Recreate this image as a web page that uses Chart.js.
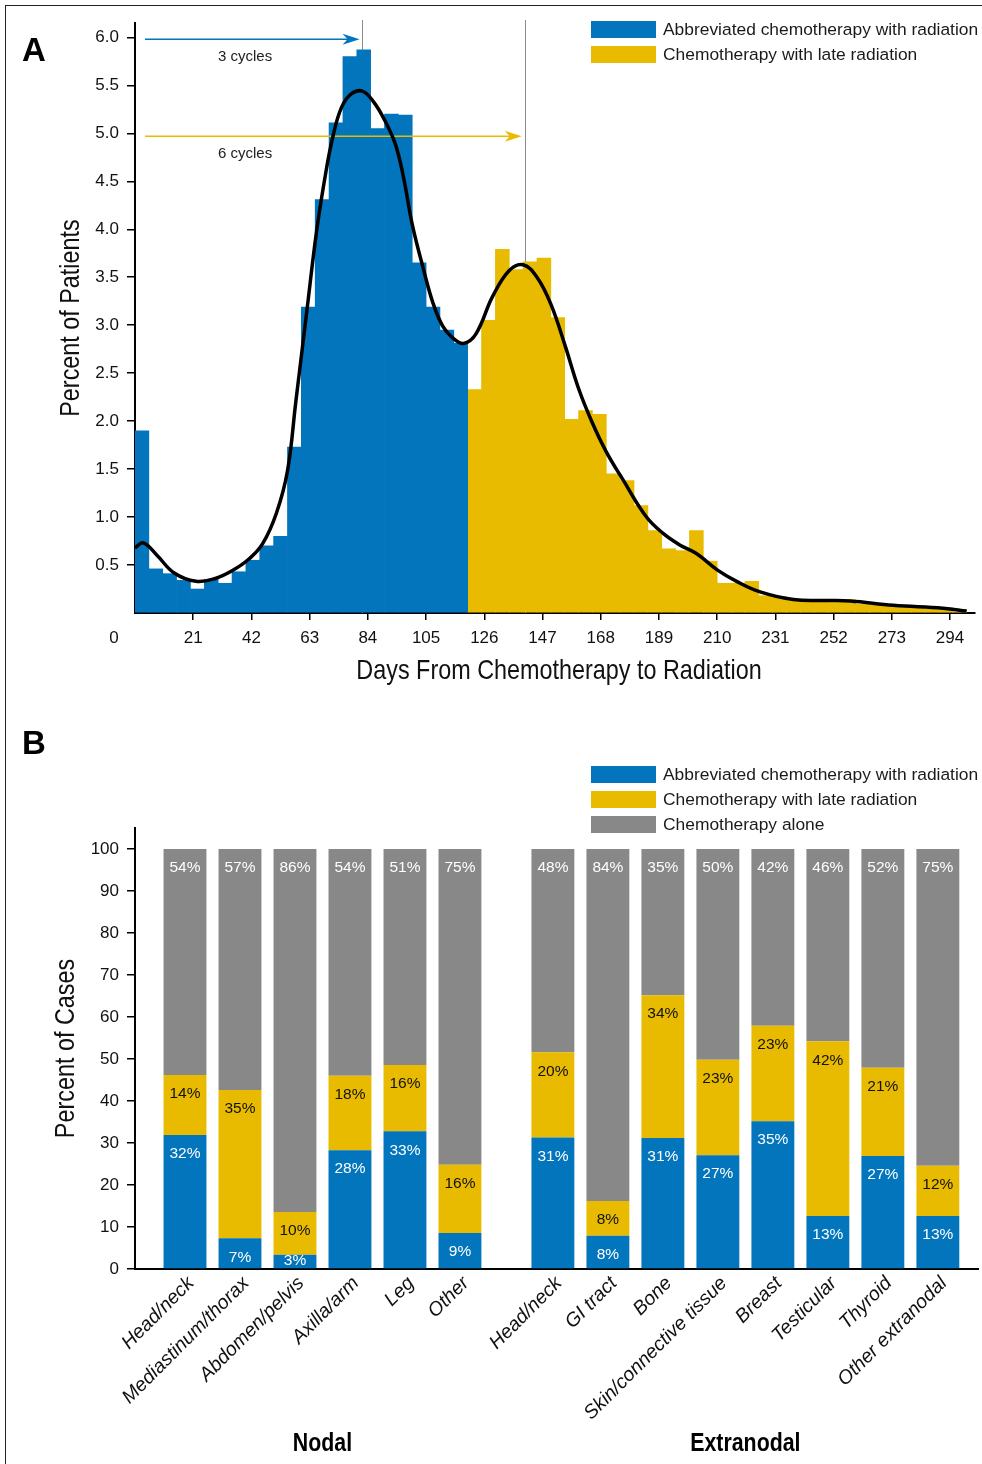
<!DOCTYPE html>
<html>
<head>
<meta charset="utf-8">
<script src="https://cdn.jsdelivr.net/npm/chart.js@4.4.1/dist/chart.umd.min.js"></script>
<style>
  html, body { margin: 0; padding: 0; background: #fff; }
  body { width: 982px; height: 1464px; position: relative; overflow: hidden; font-family: 'Liberation Sans', Arial, sans-serif; }
  .frame { position: absolute; left: 5px; top: 5px; right: 0; bottom: 0; border-left: 1.5px solid #222; border-top: 1.5px solid #222; }
  canvas { position: absolute; left: 0; }
  .panel-letter { position: absolute; left: 22px; font: bold 33px/33px 'Liberation Sans', Arial, sans-serif; color: #000; }
  .legend { position: absolute; left: 591px; }
  .legend-row { display: flex; align-items: center; height: 25px; }
  .legend-swatch { width: 65px; height: 17px; margin-right: 7px; }
  .legend-text { font-size: 17.4px; line-height: 17px; color: #1a1a1a; white-space: nowrap; }
</style>
</head>
<body>
<div class="frame"></div>
<canvas id="histChart" width="982" height="700" style="top:0;width:982px;height:700px"></canvas>
<canvas id="siteChart" width="982" height="764" style="top:700px;width:982px;height:764px"></canvas>

<div class="panel-letter" style="top:33px">A</div>
<div class="panel-letter" style="top:726px">B</div>

<div class="legend" style="top:17px">
  <div class="legend-row"><div class="legend-swatch" style="background:#0275bd"></div><div class="legend-text">Abbreviated chemotherapy with radiation</div></div>
  <div class="legend-row"><div class="legend-swatch" style="background:#e8bb00"></div><div class="legend-text">Chemotherapy with late radiation</div></div>
</div>
<div class="legend" style="top:762px">
  <div class="legend-row"><div class="legend-swatch" style="background:#0275bd"></div><div class="legend-text">Abbreviated chemotherapy with radiation</div></div>
  <div class="legend-row"><div class="legend-swatch" style="background:#e8bb00"></div><div class="legend-text">Chemotherapy with late radiation</div></div>
  <div class="legend-row"><div class="legend-swatch" style="background:#888888"></div><div class="legend-text">Chemotherapy alone</div></div>
</div>

<script>
const BLUE = '#0275bd';
const GOLD = '#e8bb00';
const GRAY = '#888888';
const SANS = "'Liberation Sans', Arial, sans-serif";

// ---- Panel A data: percent of patients per 5-day bin ----
const binWidth = 5;
const abbreviatedPct = [1.90, 0.46, 0.41, 0.34, 0.25, 0.35, 0.31, 0.43, 0.55, 0.70, 0.80, 1.73,
  3.19, 4.31, 5.11, 5.80, 5.87, 5.05, 5.20, 5.19, 3.65, 3.19, 2.95, 2.81];
const lateStartDay = 120;
const latePct = [2.33, 3.05, 3.79, 3.58, 3.66, 3.70, 3.08, 2.02, 2.11, 2.07, 1.45, 1.38,
  1.12, 0.86, 0.67, 0.65, 0.86, 0.54, 0.31, 0.31, 0.33, 0.18, 0.17, 0.13,
  0.12, 0.12, 0.11, 0.14, 0.09, 0.08, 0.07, 0.055, 0.05, 0.04, 0.055, 0.01];

// smoothed density curve
const curveDays = [0, 3, 8, 14, 22, 29, 35, 41, 46, 51, 55, 58, 62, 65.5, 69, 71.5, 74.5, 78, 82, 86,
  90, 94, 97, 100, 104, 107.5, 111, 114.5, 118.5, 123, 129, 135, 140, 145, 150, 155, 160, 165,
  170, 176, 184.5, 190.5, 196.5, 202.5, 210, 217, 225.5, 237.5, 249.5, 258, 273.5, 291.5, 300];
const curvePct = [0.68, 0.73, 0.60, 0.42, 0.33, 0.36, 0.44, 0.56, 0.72, 1.04, 1.48, 2.20, 3.15, 3.98,
  4.62, 4.98, 5.27, 5.41, 5.44, 5.33, 5.14, 4.88, 4.52, 4.05, 3.59, 3.23, 2.99, 2.87, 2.81, 2.91,
  3.30, 3.57, 3.63, 3.50, 3.22, 2.80, 2.34, 1.98, 1.68, 1.39, 1.00, 0.83, 0.71, 0.62, 0.45, 0.33,
  0.22, 0.14, 0.13, 0.125, 0.08, 0.05, 0.02];

const cycleLabels = ['3 cycles', '6 cycles'];
const cycleDays = [82, 140.5];

// ---- Panel B data: percent of cases by site ----
const nodalSites = ['Head/neck', 'Mediastinum/thorax', 'Abdomen/pelvis', 'Axilla/arm', 'Leg', 'Other'];
const extranodalSites = ['Head/neck', 'GI tract', 'Bone', 'Skin/connective tissue', 'Breast',
  'Testicular', 'Thyroid', 'Other extranodal'];
const abbreviatedShare = [31.9, 7.3, 3.4, 28.3, 32.8, 8.6, 31.3, 7.9, 31.2, 27.1, 35.2, 12.6, 26.9, 12.6];
const lateShare = [14.3, 35.3, 10.2, 17.7, 15.8, 16.2, 20.3, 8.3, 34.0, 22.7, 22.7, 41.6, 21.0, 12.0];
const aloneShare = [53.8, 57.4, 86.4, 54.0, 51.4, 75.2, 48.4, 83.8, 34.8, 50.2, 42.1, 45.8, 52.1, 75.4];
const groupNames = ['Nodal', 'Extranodal'];

Chart.defaults.font.family = SANS;
Chart.defaults.color = '#111';
Chart.defaults.animation = false;

// condensed look for titles (no narrow face installed): squeeze the regular face
function narrowText(ctx, text, x, y, size, bold, vertical) {
  ctx.save();
  ctx.translate(x, y);
  if (vertical) ctx.rotate(-Math.PI / 2);
  ctx.scale(0.82, 1);
  ctx.font = (bold ? 'bold ' : '') + size + 'px ' + SANS;
  ctx.fillStyle = bold ? '#000' : '#111';
  ctx.textAlign = 'center';
  ctx.textBaseline = 'middle';
  ctx.fillText(text, 0, 0);
  ctx.restore();
}

function arrowTo(ctx, x0, x1, y, color) {
  ctx.strokeStyle = color;
  ctx.fillStyle = color;
  ctx.lineWidth = 1.6;
  ctx.beginPath();
  ctx.moveTo(x0, y);
  ctx.lineTo(x1 - 8, y);
  ctx.stroke();
  ctx.beginPath();
  ctx.moveTo(x1, y);
  ctx.lineTo(x1 - 17, y - 5.5);
  ctx.lineTo(x1 - 12, y);
  ctx.lineTo(x1 - 17, y + 5.5);
  ctx.closePath();
  ctx.fill();
}

// marker lines + arrows for the cycle counts
const cycleDecor = {
  id: 'cycleDecor',
  beforeDatasetsDraw(chart) {
    const { ctx, chartArea, scales: { x } } = chart;
    ctx.save();
    ctx.strokeStyle = '#8a8a8a';
    ctx.lineWidth = 1;
    cycleDays.forEach(d => {
      const px = Math.round(x.getPixelForValue(d)) + 0.5;
      ctx.beginPath();
      ctx.moveTo(px, chartArea.top - 3);
      ctx.lineTo(px, chartArea.bottom);
      ctx.stroke();
    });
    ctx.restore();
  },
  afterDatasetDraw(chart, args) {
    if (args.index !== 0) return;
    const { ctx, scales: { x, y } } = chart;
    const arrowLevels = [5.98, 4.97];
    const textLevels = [5.80, 4.79];
    const colors = [BLUE, GOLD];
    ctx.save();
    cycleDays.forEach((d, i) => {
      arrowTo(ctx, x.getPixelForValue(3.6), x.getPixelForValue(d - 1), y.getPixelForValue(arrowLevels[i]), colors[i]);
      ctx.fillStyle = '#222';
      ctx.font = '15px ' + SANS;
      ctx.textAlign = 'center';
      ctx.textBaseline = 'middle';
      ctx.fillText(cycleLabels[i], x.getPixelForValue(39.7), y.getPixelForValue(textLevels[i]));
    });
    ctx.restore();
  },
  afterDraw(chart) {
    const { ctx, chartArea, scales: { x } } = chart;
    ctx.save();
    ctx.fillStyle = '#111';
    ctx.font = '17px ' + SANS;
    ctx.textAlign = 'center';
    ctx.textBaseline = 'middle';
    ctx.fillText('0', x.getPixelForValue(0) - 21, chartArea.bottom + 25);
    ctx.restore();
    narrowText(ctx, 'Days From Chemotherapy to Radiation', (chartArea.left + chartArea.right) / 2 + 4, chartArea.bottom + 58, 28.5);
    narrowText(ctx, 'Percent of Patients', 71, (chartArea.top + chartArea.bottom) / 2, 28.5, false, true);
  }
};

const hideZero = (c) => (c.tick && c.tick.value === 0 ? 'rgba(0,0,0,0)' : '#000');

new Chart(document.getElementById('histChart'), {
  type: 'bar',
  data: {
    datasets: [
      {
        label: 'Abbreviated chemotherapy with radiation',
        data: abbreviatedPct.map((v, i) => ({ x: i * binWidth + binWidth / 2, y: v })),
        backgroundColor: BLUE,
        order: 2
      },
      {
        label: 'Chemotherapy with late radiation',
        data: latePct.map((v, i) => ({ x: lateStartDay + i * binWidth + binWidth / 2, y: v })),
        backgroundColor: GOLD,
        order: 2
      },
      {
        type: 'line',
        label: 'Density',
        data: curveDays.map((d, i) => ({ x: d, y: curvePct[i] })),
        borderColor: '#000',
        borderWidth: 3.5,
        pointRadius: 0,
        tension: 0.4,
        fill: false,
        order: 1
      }
    ]
  },
  options: {
    responsive: false,
    devicePixelRatio: 1,
    layout: { padding: { left: 50, right: 7, top: 23, bottom: 9 } },
    datasets: {
      bar: { grouped: false, barPercentage: 1, categoryPercentage: 1, borderWidth: 0 }
    },
    plugins: { legend: { display: false }, tooltip: { enabled: false } },
    scales: {
      x: {
        type: 'linear',
        min: 0,
        max: 303,
        offset: false,
        afterFit: (s) => { s.height = 78; },
        border: { display: true, color: '#000', width: 2 },
        grid: { offset: false, drawOnChartArea: false, drawTicks: true, tickLength: 7, color: hideZero, lineWidth: 1.5 },
        ticks: {
          stepSize: 21,
          includeBounds: false,
          padding: 8,
          maxRotation: 0,
          font: { size: 17 },
          callback: (v) => (v === 0 ? '' : v)
        }
      },
      y: {
        min: 0,
        max: 6.15,
        afterFit: (s) => { s.width = 85; },
        border: { display: true, color: '#000', width: 2 },
        grid: { drawOnChartArea: false, drawTicks: true, tickLength: 8, color: hideZero, lineWidth: 1.5 },
        ticks: {
          stepSize: 0.5,
          includeBounds: false,
          padding: 8,
          font: { size: 17 },
          callback: (v) => (v === 0 ? '' : v.toFixed(1))
        }
      }
    }
  },
  plugins: [cycleDecor]
});

// ---- Panel B ----
const siteNames = nodalSites.concat(extranodalSites);
const groupGap = 0.69;
const siteSlots = siteNames.map((_, i) => i + (i >= nodalSites.length ? groupGap : 0));

const segmentLabels = {
  id: 'segmentLabels',
  afterDatasetsDraw(chart) {
    const { ctx } = chart;
    ctx.save();
    ctx.font = '15.5px ' + SANS;
    ctx.textAlign = 'center';
    ctx.textBaseline = 'middle';
    chart.data.datasets.forEach((ds, di) => {
      chart.getDatasetMeta(di).data.forEach((bar, i) => {
        ctx.fillStyle = ds.labelColor;
        ctx.fillText(Math.round(ds.data[i].y) + '%', bar.x, Math.min(bar.y + 19, bar.base - 8));
      });
    });
    ctx.restore();
  },
  afterDraw(chart) {
    const { ctx, chartArea, scales: { x } } = chart;
    const nodalMid = (siteSlots[0] + siteSlots[nodalSites.length - 1]) / 2;
    const extraMid = (siteSlots[nodalSites.length] + siteSlots[siteSlots.length - 1]) / 2;
    narrowText(ctx, groupNames[0], x.getPixelForValue(nodalMid), chartArea.bottom + 175, 26, true);
    narrowText(ctx, groupNames[1], x.getPixelForValue(extraMid), chartArea.bottom + 175, 26, true);
    narrowText(ctx, 'Percent of Cases', 66, (chartArea.top + chartArea.bottom) / 2, 28.5, false, true);
  }
};

const toPoints = (arr) => arr.map((v, i) => ({ x: siteSlots[i], y: v }));

new Chart(document.getElementById('siteChart'), {
  type: 'bar',
  data: {
    datasets: [
      { label: 'Abbreviated chemotherapy with radiation', data: toPoints(abbreviatedShare), backgroundColor: BLUE, labelColor: '#fff' },
      { label: 'Chemotherapy with late radiation', data: toPoints(lateShare), backgroundColor: GOLD, labelColor: '#111' },
      { label: 'Chemotherapy alone', data: toPoints(aloneShare), backgroundColor: GRAY, labelColor: '#fff' }
    ]
  },
  options: {
    responsive: false,
    devicePixelRatio: 1,
    layout: { padding: { left: 45, right: 4, top: 128, bottom: 10 } },
    datasets: { bar: { barPercentage: 0.78, categoryPercentage: 1, borderWidth: 0 } },
    plugins: { legend: { display: false }, tooltip: { enabled: false } },
    scales: {
      x: {
        type: 'linear',
        stacked: true,
        min: -0.909,
        max: 14.42,
        offset: false,
        afterFit: (s) => { s.height = 185; },
        afterBuildTicks: (s) => { s.ticks = siteSlots.map(v => ({ value: v })); },
        border: { display: true, color: '#000', width: 2 },
        grid: { display: false, drawTicks: false },
        ticks: {
          autoSkip: false,
          minRotation: 45,
          maxRotation: 45,
          padding: 3,
          labelOffset: 6,
          font: { size: 19.5, style: 'italic' },
          callback: (v, i) => siteNames[i]
        }
      },
      y: {
        stacked: true,
        min: 0,
        max: 105,
        afterFit: (s) => { s.width = 90; },
        border: { display: true, color: '#000', width: 2 },
        grid: { drawOnChartArea: false, drawTicks: true, tickLength: 8, color: '#000', lineWidth: 1.5 },
        ticks: { stepSize: 10, includeBounds: false, padding: 8, font: { size: 17 } }
      }
    }
  },
  plugins: [segmentLabels]
});
</script>
</body>
</html>
